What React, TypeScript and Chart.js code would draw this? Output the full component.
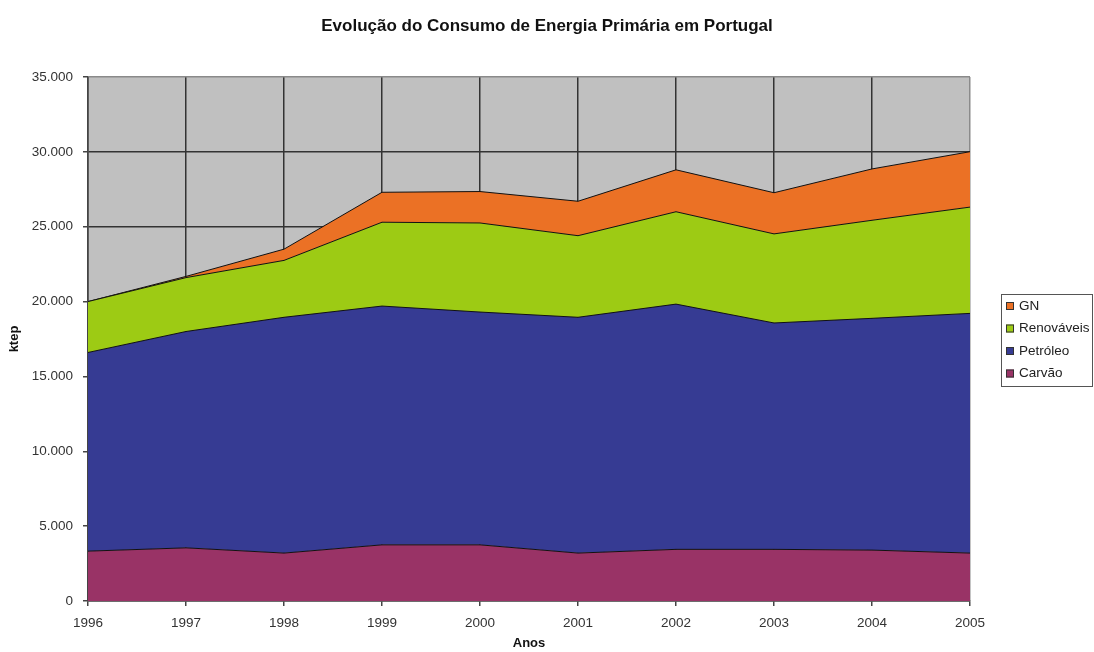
import React, { useEffect, useRef } from "react";
import { Chart, registerables } from "chart.js";

Chart.register(...registerables);

const years = ["1996", "1997", "1998", "1999", "2000", "2001", "2002", "2003", "2004", "2005"];
const carvao = [3330, 3550, 3200, 3750, 3750, 3200, 3450, 3450, 3400, 3200];
const petroleo = [13270, 14450, 15750, 15950, 15550, 15750, 16380, 15120, 15480, 16010];
const renovaveis = [3400, 3600, 3800, 5600, 5950, 5450, 6170, 5950, 6550, 7100];
const gn = [0, 80, 750, 2000, 2100, 2300, 2800, 2750, 3430, 3700];
const yTickValues = [0, 5000, 10000, 15000, 20000, 25000, 30000, 35000];
const titleText = "Evolução do Consumo de Energia Primária em Portugal";

const FONT = '"Liberation Sans", Arial, sans-serif';

const fmt = (v: number) => String(Math.round(v)).replace(/\B(?=(\d{3})+(?!\d))/g, ".");

const bgPlugin = {
  id: "plotBg",
  beforeDraw(chart: any) {
    const { ctx, chartArea } = chart;
    ctx.save();
    ctx.fillStyle = "#C0C0C0";
    ctx.fillRect(chartArea.left, chartArea.top, chartArea.right - chartArea.left, chartArea.bottom - chartArea.top);
    ctx.restore();
  },
};

const titlePlugin = {
  id: "pageTitle",
  afterDraw(chart: any) {
    const { ctx, width } = chart;
    ctx.save();
    ctx.fillStyle = "#111";
    ctx.font = "bold 17px " + FONT;
    ctx.textAlign = "center";
    ctx.textBaseline = "middle";
    ctx.fillText(titleText, width / 2, 26);
    ctx.restore();
  },
};

const legendPlugin = {
  id: "boxLegend",
  afterDraw(chart: any) {
    const { ctx, chartArea } = chart;
    const x0 = chartArea.right + 31;
    const y0 = 294;
    const w = 91;
    const h = 92;
    ctx.save();
    ctx.fillStyle = "#ffffff";
    ctx.fillRect(x0, y0, w, h);
    ctx.strokeStyle = "#555";
    ctx.lineWidth = 1;
    ctx.strokeRect(x0 + 0.5, y0 + 0.5, w, h);
    const ds = chart.data.datasets.slice().reverse();
    ds.forEach((d: any, i: number) => {
      const cy = y0 + 12 + i * 22.5;
      ctx.fillStyle = d.backgroundColor;
      ctx.fillRect(x0 + 5, cy - 4, 8, 8);
      ctx.strokeStyle = "#333";
      ctx.strokeRect(x0 + 5.5, cy - 3.5, 7, 7);
      ctx.fillStyle = "#222";
      ctx.font = "13.5px " + FONT;
      ctx.textBaseline = "middle";
      ctx.textAlign = "left";
      ctx.fillText(d.label, x0 + 18, cy);
    });
    ctx.restore();
  },
};

export default function App() {
  const ref = useRef<HTMLCanvasElement>(null);
  useEffect(() => {
    if (!ref.current) return;
    Chart.defaults.font.family = FONT;
    const mk = (label: string, data: number[], color: string, fill: any) => ({
      label,
      data,
      backgroundColor: color,
      borderColor: "#111",
      borderWidth: 1,
      fill,
      pointRadius: 0,
      tension: 0,
    });
    const chart = new Chart(ref.current, {
      type: "line",
      data: {
        labels: years,
        datasets: [
          mk("Carvão", carvao, "#993366", "origin"),
          mk("Petróleo", petroleo, "#363B93", "-1"),
          mk("Renováveis", renovaveis, "#9DCB14", "-1"),
          mk("GN", gn, "#EB7125", "-1"),
        ],
      },
      options: {
        responsive: false,
        animation: false,
        layout: { padding: { left: 0, right: 124, top: 77, bottom: 0 } },
        plugins: {
          legend: { display: false },
          tooltip: { enabled: false },
          title: { display: false },
        },
        scales: {
          x: {
            type: "category",
            offset: false,
            grid: {
              color: (c: any) => (c.index === years.length - 1 ? "#8a8a8a" : "#333"),
              lineWidth: 1.5,
              tickLength: 5,
              tickColor: "#444",
            },
            border: { color: "#444", width: 1.5 },
            ticks: { color: "#333", font: { size: 13.5 }, padding: 9, maxRotation: 0, autoSkip: false },
            title: {
              display: true,
              text: "Anos",
              color: "#111",
              font: { size: 13, weight: "bold" },
              padding: { top: 0, bottom: 1 },
            },
            afterFit: (s: any) => {
              s.height = 51;
            },
          },
          y: {
            stacked: true,
            min: 0,
            max: 35000,
            afterBuildTicks: (s: any) => {
              s.ticks = yTickValues.map((v) => ({ value: v }));
            },
            grid: {
              color: (c: any) => (c.tick && c.tick.value === 35000 ? "#8a8a8a" : "#333"),
              lineWidth: 1.5,
              tickLength: 5,
              tickColor: "#444",
            },
            border: { color: "#444", width: 1.5 },
            ticks: {
              color: "#333",
              font: { size: 13.5 },
              padding: 10,
              callback: (v: any) => fmt(Number(v)),
            },
            title: {
              display: true,
              text: "ktep",
              color: "#111",
              font: { size: 13, weight: "bold" },
              padding: { top: 7, bottom: 0 },
            },
            afterFit: (s: any) => {
              s.width = 88;
            },
          },
        },
      },
      plugins: [bgPlugin, legendPlugin, titlePlugin],
    });
    return () => chart.destroy();
  }, []);
  return (
    <div style={{ position: "absolute", left: 0, top: 0, width: 1094, height: 652, background: "#fff" }}>
      <canvas ref={ref} width={1094} height={652} style={{ display: "block" }} />
    </div>
  );
}
